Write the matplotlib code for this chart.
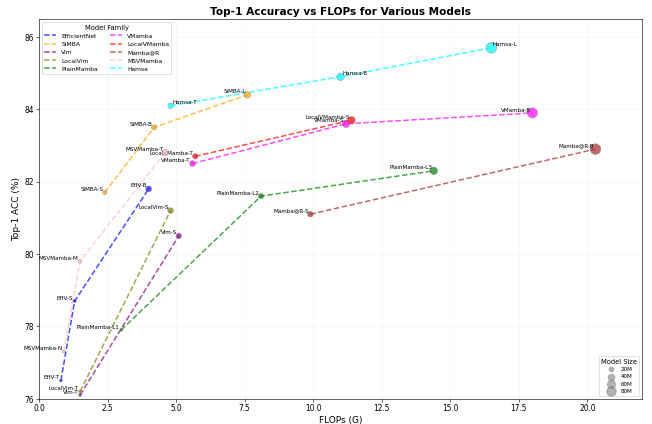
import matplotlib
matplotlib.use("Agg")
import matplotlib.pyplot as plt

# data (FLOPs in G, top-1 in %, params in M)
effnet_names = ["EffV-T", "EffV-S", "EffV-B"]
effnet_flops = [0.8, 1.3, 4.0]
effnet_acc = [76.5, 78.7, 81.8]
effnet_params = [7, 9, 30]

simba_names = ["SiMBA-S", "SiMBA-B", "SiMBA-L"]
simba_flops = [2.4, 4.2, 7.6]
simba_acc = [81.7, 83.5, 84.4]
simba_params = [15, 23, 37]

vim_names = ["Vim-T", "Vim-S"]
vim_flops = [1.5, 5.1]
vim_acc = [76.1, 80.5]
vim_params = [7, 26]

localvim_names = ["LocalVim-T", "LocalVim-S"]
localvim_flops = [1.5, 4.8]
localvim_acc = [76.2, 81.2]
localvim_params = [8, 28]

plain_names = ["PlainMamba-L1", "PlainMamba-L2", "PlainMamba-L3"]
plain_flops = [3.0, 8.1, 14.4]
plain_acc = [77.9, 81.6, 82.3]
plain_params = [7, 25, 50]

vmamba_names = ["VMamba-T", "VMamba-S", "VMamba-B"]
vmamba_flops = [5.6, 11.2, 18.0]
vmamba_acc = [82.5, 83.6, 83.9]
vmamba_params = [30, 50, 89]

localvm_names = ["LocalVMamba-T", "LocalVMamba-S"]
localvm_flops = [5.7, 11.4]
localvm_acc = [82.7, 83.7]
localvm_params = [26, 50]

mambar_names = ["Mamba@R-S", "Mamba@R-B"]
mambar_flops = [9.9, 20.3]
mambar_acc = [81.1, 82.9]
mambar_params = [28, 99]

msv_names = ["MSVMamba-N", "MSVMamba-M", "MSVMamba-T"]
msv_flops = [0.9, 1.5, 4.6]
msv_acc = [77.3, 79.8, 82.8]
msv_params = [7, 12, 33]

hamsa_names = ["Hamsa-T", "Hamsa-B", "Hamsa-L"]
hamsa_flops = [4.8, 11.0, 16.5]
hamsa_acc = [84.1, 84.9, 85.7]
hamsa_params = [27, 49, 100]

size_legend = [20, 40, 60, 80]

families = [
    ("EfficientNet", "blue", effnet_names, effnet_flops, effnet_acc, effnet_params),
    ("SiMBA", "orange", simba_names, simba_flops, simba_acc, simba_params),
    ("Vim", "purple", vim_names, vim_flops, vim_acc, vim_params),
    ("LocalVim", "olive", localvim_names, localvim_flops, localvim_acc, localvim_params),
    ("PlainMamba", "green", plain_names, plain_flops, plain_acc, plain_params),
    ("VMamba", "magenta", vmamba_names, vmamba_flops, vmamba_acc, vmamba_params),
    ("LocalVMamba", "red", localvm_names, localvm_flops, localvm_acc, localvm_params),
    ("Mamba@R", "brown", mambar_names, mambar_flops, mambar_acc, mambar_params),
    ("MSVMamba", "pink", msv_names, msv_flops, msv_acc, msv_params),
    ("Hamsa", "cyan", hamsa_names, hamsa_flops, hamsa_acc, hamsa_params),
]

size_k = 2  # marker area per M params

fig = plt.figure(figsize=(12, 7.81), dpi=652 / 12)
ax = fig.add_axes([0.0598, 0.0597, 0.925, 0.895])

for fam, col, names, fl, acc, par in families:
    ax.plot(fl, acc, "--", color=col, lw=2, alpha=0.7, label=fam, zorder=2)
    ax.scatter(fl, acc, s=[p * size_k for p in par], color=col, alpha=0.7,
               edgecolors="gray", linewidths=0.8, zorder=3)
    for n, x, y in zip(names, fl, acc):
        if fam == "Hamsa":
            ax.annotate(n, (x, y), xytext=(2, 1), textcoords="offset points",
                        ha="left", va="bottom", fontsize=7.5)
        else:
            ax.annotate(n, (x, y), xytext=(-2, 1), textcoords="offset points",
                        ha="right", va="bottom", fontsize=7.5)

ax.set_xlim(0, 22)
ax.set_ylim(76, 86.5)
ax.set_xlabel("FLOPs (G)", fontsize=12)
ax.set_ylabel("Top-1 ACC (%)", fontsize=12)
ax.set_title("Top-1 Accuracy vs FLOPs for Various Models", fontsize=14, fontweight="bold")
ax.grid(True, alpha=0.3, color="#dddddd")

leg1 = ax.legend(loc="upper left", ncol=2, fontsize=8, title="Model Family",
                 title_fontsize=9)
ax.add_artist(leg1)

size_handles = [plt.scatter([], [], s=v * size_k, color="gray", alpha=0.6) for v in size_legend]
ax.legend(size_handles, [f"{v}M" for v in size_legend], loc="lower right",
          fontsize=7.5, title="Model Size", title_fontsize=9, labelspacing=0.4)

fig.savefig("out.png", dpi=652 / 12)
